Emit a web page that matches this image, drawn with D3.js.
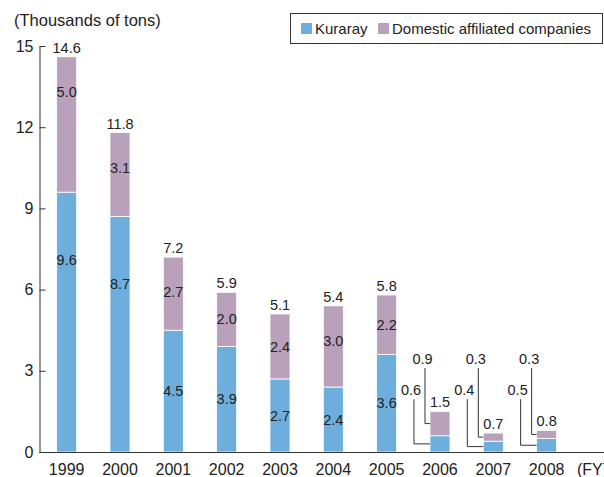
<!DOCTYPE html>
<html>
<head>
<meta charset="utf-8">
<script src="https://cdn.jsdelivr.net/npm/d3@7"></script>
<style>
  body { margin: 0; background: #fff; }
  svg { display: block; font-family: "Liberation Sans", Arial, Helvetica, sans-serif; }
</style>
</head>
<body>
<svg id="chart" width="604" height="477"></svg>
<script>
// data
var years = ['1999', '2000', '2001', '2002', '2003', '2004', '2005', '2006', '2007', '2008'];
var kuraray = [9.6, 8.7, 4.5, 3.9, 2.7, 2.4, 3.6, 0.6, 0.4, 0.5];
var domestic = [5.0, 3.1, 2.7, 2.0, 2.4, 3.0, 2.2, 0.9, 0.3, 0.3];
var totals = [14.6, 11.8, 7.2, 5.9, 5.1, 5.4, 5.8, 1.5, 0.7, 0.8];
var yTicks = [0, 3, 6, 9, 12, 15];
var seriesNames = ['Kuraray', 'Domestic affiliated companies'];

var colors = ['#6daedd', '#b9a1bb'];
var ink = '#222';

var svg = d3.select('#chart');

var x = d3.scaleBand()
    .domain(years)
    .range([40, 573.3])
    .paddingInner(0.625)
    .paddingOuter(0.3125);

var y = d3.scaleLinear()
    .domain([0, 15])
    .range([452, 46]);

// stacked rows
var rows = years.map(function(yr, i) {
    return {year: yr, Kuraray: kuraray[i], Domestic: domestic[i], total: totals[i]};
});
var stack = d3.stack().keys(['Kuraray', 'Domestic']);
var layers = stack(rows);

// bars
var g = svg.append('g');
layers.forEach(function(layer, li) {
    g.selectAll('.bar' + li)
      .data(layer)
      .enter()
      .append('rect')
      .attr('x', function(d) { return x(d.data.year); })
      .attr('y', function(d) { return y(d[1]); })
      .attr('width', x.bandwidth())
      .attr('height', function(d) { return y(d[0]) - y(d[1]); })
      .attr('fill', colors[li])
      .attr('stroke', '#fff')
      .attr('stroke-width', 0.8);
});

// in-bar labels (big segments) and leader labels (small segments)
var labelDrop = [2.5, 1.3];   // how far below the segment top a tall label sits
var leaderLevel = [2.1, 3.25]; // baseline of leader labels, data units
var leaderTextDx = [-29, -17.5];
var leaderLineDx = [-26, -15];

layers.forEach(function(layer, li) {
    layer.forEach(function(d) {
        var v = d[1] - d[0];
        var c = x(d.data.year) + x.bandwidth() / 2;
        var txt = v.toFixed(1);
        if (v >= 1) {
            var pos = Math.max((d[0] + d[1]) / 2, d[1] - labelDrop[li]);
            svg.append('text')
              .attr('x', c)
              .attr('y', y(pos))
              .attr('dy', '0.35em')
              .attr('text-anchor', 'middle')
              .attr('font-size', '14.5px')
              .attr('fill', ink)
              .text(txt);
        } else {
            var by = y(leaderLevel[li]);
            svg.append('text')
              .attr('x', c + leaderTextDx[li])
              .attr('y', by)
              .attr('text-anchor', 'middle')
              .attr('font-size', '14.5px')
              .attr('fill', ink)
              .text(txt);
            var lx = c + leaderLineDx[li];
            svg.append('path')
              .attr('d', 'M' + lx + ',' + (by + 4) + 'V' + y((d[0] + d[1]) / 2) + 'H' + x(d.data.year))
              .attr('fill', 'none')
              .attr('stroke', '#333')
              .attr('stroke-width', 1);
        }
    });
});

// totals above the bars
svg.selectAll('.total')
  .data(rows)
  .enter()
  .append('text')
  .attr('x', function(d) { return x(d.year) + x.bandwidth() / 2; })
  .attr('y', function(d) { return y(d.total) - 4; })
  .attr('text-anchor', 'middle')
  .attr('font-size', '14.5px')
  .attr('fill', ink)
  .text(function(d) { return d.total.toFixed(1); });

// y axis, ticks pointing inward
var yAxis = d3.axisLeft(y)
    .tickValues(yTicks)
    .tickSizeInner(-6)
    .tickSizeOuter(0)
    .tickPadding(6);
var ya = svg.append('g')
    .attr('transform', 'translate(39.5,0)')
    .call(yAxis);
ya.selectAll('path, line').attr('stroke', '#333');
ya.selectAll('text')
  .attr('font-size', '16px')
  .attr('fill', ink)
  .attr('font-family', 'inherit');

// x baseline
svg.append('line')
  .attr('x1', 39.5).attr('x2', 604)
  .attr('y1', y(0) + 0.5).attr('y2', y(0) + 0.5)
  .attr('stroke', '#333')
  .attr('stroke-width', 1);

// year labels
svg.selectAll('.year')
  .data(years)
  .enter()
  .append('text')
  .attr('x', function(d) { return x(d) + x.bandwidth() / 2; })
  .attr('y', 475)
  .attr('text-anchor', 'middle')
  .attr('font-size', '16px')
  .attr('fill', ink)
  .text(function(d) { return d; });

svg.append('text')
  .attr('x', 577)
  .attr('y', 475)
  .attr('font-size', '16px')
  .attr('fill', ink)
  .text('(FY)');

// unit title
svg.append('text')
  .attr('x', 14)
  .attr('y', 26)
  .attr('font-size', '16.5px')
  .attr('fill', ink)
  .text('(Thousands of tons)');

// legend
var lg = svg.append('g');
lg.append('rect')
  .attr('x', 290.5).attr('y', 13.5)
  .attr('width', 312).attr('height', 30)
  .attr('fill', 'none')
  .attr('stroke', '#333');
var legX = [301, 378];
seriesNames.forEach(function(name, i) {
    lg.append('rect')
      .attr('x', legX[i]).attr('y', 23)
      .attr('width', 11).attr('height', 11)
      .attr('fill', colors[i]);
    lg.append('text')
      .attr('x', legX[i] + 14)
      .attr('y', 34)
      .attr('font-size', '15px')
      .attr('fill', ink)
      .text(name);
});
</script>
</body>
</html>
